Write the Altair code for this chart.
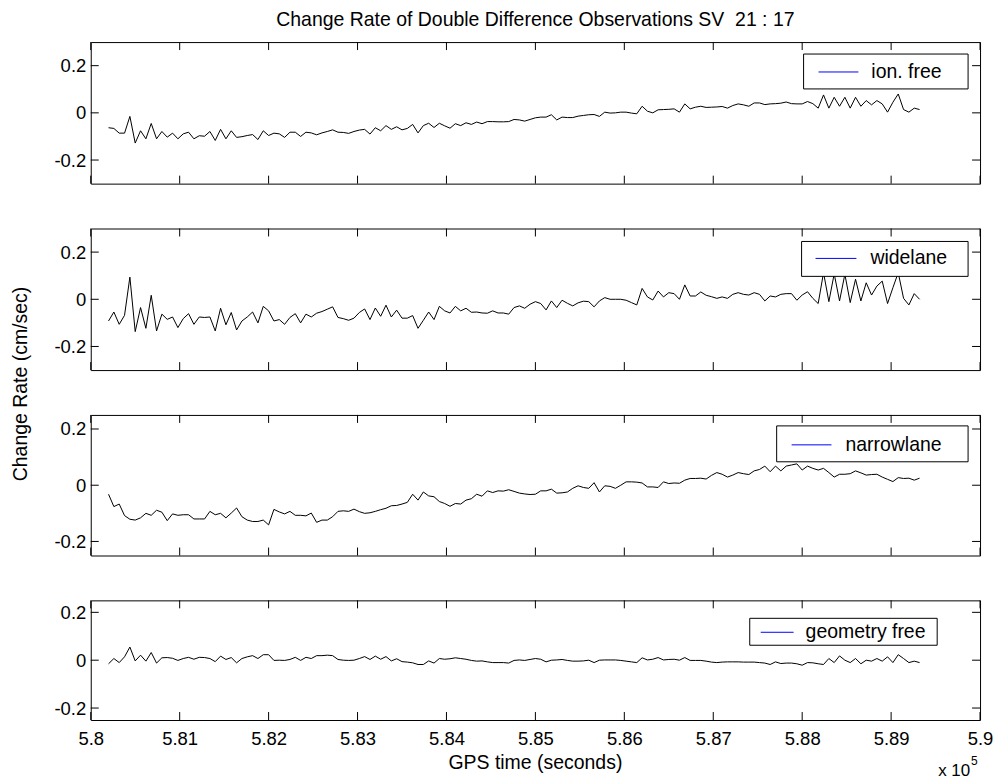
import altair as alt
import pandas as pd

# ---------------- data ----------------
T0 = 580200          # first epoch (s)
DT = 60              # sampling interval (s)

ion_free = [
    -0.063, -0.066, -0.086, -0.086, -0.015, -0.128, -0.076, -0.110, -0.045, -0.110,
    -0.079, -0.103, -0.086, -0.110, -0.089, -0.082, -0.110, -0.097, -0.099, -0.079,
    -0.117, -0.070, -0.110, -0.076, -0.104, -0.101, -0.096, -0.092, -0.113, -0.076,
    -0.096, -0.086, -0.089, -0.104, -0.082, -0.082, -0.100, -0.082, -0.085, -0.093,
    -0.085, -0.079, -0.072, -0.082, -0.083, -0.087, -0.079, -0.073, -0.070, -0.090,
    -0.063, -0.076, -0.054, -0.070, -0.059, -0.072, -0.066, -0.049, -0.085, -0.054,
    -0.044, -0.062, -0.044, -0.055, -0.065, -0.046, -0.054, -0.042, -0.049, -0.039,
    -0.046, -0.037, -0.037, -0.038, -0.038, -0.037, -0.028, -0.030, -0.035, -0.028,
    -0.021, -0.018,
    -0.018, -0.008, -0.030, -0.018, -0.020, -0.020, -0.014, -0.011, -0.008, -0.007,
    -0.015, 0.003, -0.001, 0.000, 0.003, 0.003, -0.001, -0.004, 0.028, 0.007,
    0.000, 0.013, 0.014, 0.015, 0.017, 0.003, 0.038, 0.017, 0.024, 0.028,
    0.023, 0.024, 0.025, 0.027, 0.020, 0.031, 0.038, 0.034, 0.028, 0.042,
    0.042, 0.035, 0.038, 0.039, 0.041, 0.046, 0.039, 0.038, 0.038, 0.048,
    0.039, 0.020, 0.076, 0.020, 0.066, 0.028, 0.066, 0.020, 0.066, 0.028,
    0.052, 0.034, 0.052, 0.038, 0.003, 0.045, 0.080, 0.014, 0.003, 0.020,
    0.014,
]

widelane = [
    -0.092, -0.054, -0.106, -0.068, 0.094, -0.137, -0.035, -0.123, 0.017, -0.134,
    -0.063, -0.085, -0.075, -0.120, -0.082, -0.061, -0.106, -0.075, -0.077, -0.075,
    -0.134, -0.038, -0.108, -0.056, -0.130, -0.092, -0.075, -0.054, -0.100, -0.030,
    -0.049, -0.092, -0.086, -0.106, -0.077, -0.061, -0.100, -0.063, -0.075, -0.059,
    -0.052, -0.042, -0.032, -0.077, -0.082, -0.089, -0.080, -0.056, -0.041, -0.086,
    -0.037, -0.072, -0.025, -0.075, -0.046, -0.080, -0.080, -0.069, -0.123, -0.089,
    -0.054, -0.086, -0.030, -0.049, -0.058, -0.030, -0.049, -0.038, -0.055, -0.054,
    -0.058, -0.059, -0.049, -0.058, -0.058, -0.063, -0.035, -0.028, -0.038, -0.021,
    -0.010, -0.018,
    -0.045, -0.007, -0.035, -0.004, -0.017, -0.028, -0.015, -0.008, -0.010, -0.032,
    -0.007, 0.007, 0.000, 0.000, 0.000, -0.004, -0.014, -0.024, 0.046, 0.010,
    -0.003, 0.035, 0.010, 0.028, 0.024, 0.000, 0.061, 0.014, 0.014, 0.031,
    0.017, 0.011, 0.004, 0.010, 0.004, 0.021, 0.028, 0.021, 0.018, 0.028,
    0.021, -0.007, 0.014, 0.010, 0.021, 0.024, 0.024, -0.004, 0.018, 0.032,
    0.004, -0.018, 0.113, -0.010, 0.108, -0.007, 0.106, -0.014, 0.085, -0.007,
    0.070, 0.018, 0.056, 0.077, -0.018, 0.049, 0.113, 0.004, -0.024, 0.024,
    0.000,
]

narrowlane = [
    -0.032, -0.076, -0.067, -0.108, -0.121, -0.124, -0.116, -0.100, -0.107, -0.089,
    -0.096, -0.126, -0.102, -0.107, -0.105, -0.105, -0.120, -0.120, -0.120, -0.093,
    -0.105, -0.100, -0.116, -0.099, -0.081, -0.112, -0.124, -0.129, -0.129, -0.124,
    -0.141, -0.086, -0.095, -0.102, -0.093, -0.107, -0.107, -0.109, -0.099, -0.132,
    -0.124, -0.124, -0.112, -0.093, -0.091, -0.093, -0.085, -0.094, -0.100, -0.098,
    -0.093, -0.087, -0.082, -0.073, -0.072, -0.067, -0.061, -0.032, -0.053, -0.024,
    -0.038, -0.041, -0.058, -0.065, -0.075, -0.065, -0.067, -0.053, -0.048, -0.032,
    -0.039, -0.020, -0.026, -0.020, -0.021, -0.016, -0.022, -0.028, -0.031, -0.033,
    -0.032, -0.020,
    -0.020, -0.014, -0.028, -0.027, -0.024, -0.011, -0.002, -0.008, -0.011, 0.009,
    -0.024, -0.002, -0.004, -0.011, 0.000, 0.012, 0.012, 0.011, 0.008, -0.006,
    -0.006, -0.008, 0.012, 0.006, 0.008, 0.007, 0.018, 0.024, 0.024, 0.025,
    0.022, 0.035, 0.045, 0.039, 0.029, 0.036, 0.045, 0.041, 0.038, 0.051,
    0.056, 0.068, 0.048, 0.068, 0.051, 0.068, 0.072, 0.076, 0.054, 0.068,
    0.060, 0.054, 0.060, 0.045, 0.029, 0.039, 0.039, 0.041, 0.051, 0.044,
    0.036, 0.038, 0.039, 0.029, 0.021, 0.013, 0.027, 0.024, 0.025, 0.018,
    0.025,
]

geometry_free = [
    -0.015, 0.007, -0.010, 0.014, 0.055, -0.003, 0.021, -0.004, 0.032, -0.012,
    0.010, 0.011, 0.008, -0.001, 0.007, 0.012, 0.004, 0.012, 0.011, 0.007,
    -0.006, 0.017, 0.003, 0.011, -0.011, 0.007, 0.014, 0.019, 0.007, 0.023,
    0.023, -0.001, 0.000, -0.001, 0.003, 0.012, -0.001, 0.012, 0.007, 0.019,
    0.019, 0.021, 0.019, 0.003, 0.000, -0.001, 0.000, 0.007, 0.015, 0.003,
    0.017, 0.004, 0.015, -0.003, 0.006, -0.006, -0.008, -0.011, -0.018, -0.018,
    -0.003, -0.012, 0.007, 0.004, 0.006, 0.010, 0.007, 0.004, -0.001, -0.004,
    -0.003, -0.007, -0.010, -0.010, -0.010, -0.012, -0.001, 0.001, -0.001, 0.003,
    0.007, 0.004,
    -0.007, 0.000, 0.001, 0.003, -0.001, -0.004, -0.004, -0.003, 0.000, -0.010,
    0.000, 0.001, 0.001, 0.001, -0.001, -0.004, -0.007, -0.010, 0.010, 0.001,
    0.004, 0.011, 0.001, 0.003, 0.004, 0.000, 0.011, -0.001, -0.001, -0.001,
    -0.004, -0.008, -0.010, -0.008, -0.007, -0.007, -0.007, -0.008, -0.008, -0.008,
    -0.010, -0.012, -0.018, -0.007, -0.014, -0.012, -0.012, -0.015, -0.021, -0.010,
    -0.011, -0.015, -0.018, 0.007, -0.010, 0.018, 0.000, -0.010, 0.007, -0.015,
    0.000, -0.004, 0.007, -0.004, 0.014, -0.010, 0.023, 0.007, -0.010, -0.004,
    -0.010,
]

series_labels = ["ion. free", "widelane", "narrowlane", "geometry free"]
x_ticks = [580000, 581000, 582000, 583000, 584000, 585000,
           586000, 587000, 588000, 589000, 590000]
y_ticks = [-0.2, 0.0, 0.2]
x_domain = [580000, 590000]
y_domains = [[-0.3, 0.3], [-0.3, 0.3], [-0.25, 0.25], [-0.25, 0.25]]

TITLE = "Change Rate of Double Difference Observations SV\u00a0 21 : 17"
Y_TITLE = "Change Rate (cm/sec)"
X_TITLE = "GPS time (seconds)"

# ---------------- layout / style ----------------
FONT = "Liberation Sans"
FS = 19.5
W = 892
HEIGHTS = [142, 142, 141, 120]
TL = 8  # tick length
# legend geometry: box x1,x2,y1,y2 ; sample x1,x2 ; row y ; text x
LEG = [
    (715, 880, 12, 47, 730, 770, 30, 783),
    (713, 880, 13, 48, 727, 768, 30, 782),
    (688, 880, 11, 47, 703, 743, 30, 757),
    (661, 849, 18, 45, 672, 705, 32, 717),
]


def one(txt):
    return pd.DataFrame({"s": [txt]})


def panel(k, values):
    h = HEIGHTS[k]
    df = pd.DataFrame({"t": [T0 + DT * i for i in range(len(values))], "v": values})
    xs = alt.Scale(domain=x_domain, nice=False, zero=False)
    ys = alt.Scale(domain=y_domains[k], nice=False, zero=False)
    if k == 3:
        xaxis = alt.Axis(values=x_ticks, ticks=False, domain=False, grid=False,
                         labelPadding=10, labelFlush=False, labelOverlap=False,
                         labelExpr="format(datum.value/100000, '.3~f')", title=None)
    else:
        xaxis = None
    yaxis = alt.Axis(values=y_ticks, ticks=False, domain=False, grid=False,
                     labelPadding=5, labelOverlap=False,
                     labelExpr="datum.value == 0 ? '0' : (datum.value < 0 ? '-' : '') + format(abs(datum.value), '.1f')",
                     title=None)
    layers = []
    layers.append(
        alt.Chart(df).mark_line(color="black", strokeWidth=1).encode(
            x=alt.X("t:Q", scale=xs, axis=xaxis),
            y=alt.Y("v:Q", scale=ys, axis=yaxis),
        )
    )
    xt = pd.DataFrame({"v": x_ticks})
    yt = pd.DataFrame({"v": y_ticks})
    layers.append(alt.Chart(xt).mark_rule(color="black", strokeWidth=1).encode(
        x=alt.X("v:Q", scale=xs, axis=xaxis), y=alt.value(0), y2=alt.value(TL)))
    layers.append(alt.Chart(xt).mark_rule(color="black", strokeWidth=1).encode(
        x=alt.X("v:Q", scale=xs, axis=xaxis), y=alt.value(h - TL), y2=alt.value(h)))
    layers.append(alt.Chart(yt).mark_rule(color="black", strokeWidth=1).encode(
        y=alt.Y("v:Q", scale=ys, axis=yaxis), x=alt.value(0), x2=alt.value(TL)))
    layers.append(alt.Chart(yt).mark_rule(color="black", strokeWidth=1).encode(
        y=alt.Y("v:Q", scale=ys, axis=yaxis), x=alt.value(W - TL), x2=alt.value(W)))

    bx1, bx2, by1, by2, lx1, lx2, ly, tx = LEG[k]
    lab = one(series_labels[k])
    layers.append(alt.Chart(lab).mark_rect(fill="white", stroke="black", strokeWidth=1).encode(
        x=alt.value(bx1), x2=alt.value(bx2), y=alt.value(by1), y2=alt.value(by2)))
    layers.append(alt.Chart(lab).mark_rule(color="#0000ff", strokeWidth=1).encode(
        x=alt.value(lx1), x2=alt.value(lx2), y=alt.value(ly)))
    layers.append(alt.Chart(lab).mark_text(align="left", baseline="middle", font=FONT,
                                           fontSize=FS, color="black").encode(
        x=alt.value(tx), y=alt.value(ly), text="s:N"))

    if k == 0:
        layers.append(alt.Chart(one(TITLE)).mark_text(align="center", baseline="alphabetic",
                                                      font=FONT, fontSize=FS, color="black").encode(
            x=alt.value(W / 2), y=alt.value(-16), text="s:N"))
        # invisible anchor fixing the top-left of the drawing
        layers.append(alt.Chart(one("a")).mark_rule(opacity=0).encode(
            x=alt.value(-82), x2=alt.value(-82), y=alt.value(-32), y2=alt.value(-32)))
    if k == 1:
        layers.append(alt.Chart(one(Y_TITLE)).mark_text(align="center", baseline="middle", angle=270,
                                                        font=FONT, fontSize=FS, color="black").encode(
            x=alt.value(-70), y=alt.value(156), text="s:N"))
    if k == 3:
        layers.append(alt.Chart(one(X_TITLE)).mark_text(align="center", baseline="alphabetic",
                                                        font=FONT, fontSize=FS, color="black").encode(
            x=alt.value(W / 2), y=alt.value(169), text="s:N"))
        layers.append(alt.Chart(one("x 10")).mark_text(align="left", baseline="alphabetic",
                                                       font=FONT, fontSize=17, color="black").encode(
            x=alt.value(850), y=alt.value(176), text="s:N"))
        layers.append(alt.Chart(one("5")).mark_text(align="left", baseline="alphabetic",
                                                    font=FONT, fontSize=12, color="black").encode(
            x=alt.value(883), y=alt.value(165), text="s:N"))

    return alt.layer(*layers).properties(width=W, height=h)


panels = [panel(k, s) for k, s in enumerate([ion_free, widelane, narrowlane, geometry_free])]

chart = (
    alt.vconcat(*panels, spacing=45, bounds="flush")
    .properties(padding=0)
    .configure_view(stroke="black", strokeWidth=1)
    .configure_axis(labelFont=FONT, labelFontSize=18.5, labelColor="black")
)

chart.save("out.html", embed_options={"renderer": "svg", "actions": False})
